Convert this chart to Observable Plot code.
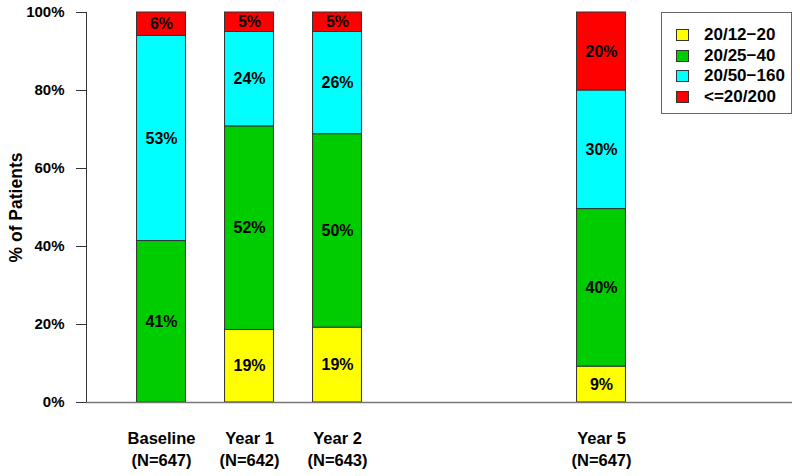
<!DOCTYPE html>
<html>
<head>
<meta charset="utf-8">
<script src="https://cdn.jsdelivr.net/npm/d3@7"></script>
<script src="https://cdn.jsdelivr.net/npm/@observablehq/plot@0.6"></script>
<style>
  html, body { margin: 0; padding: 0; background: #fff; }
  #wrap { position: relative; width: 800px; height: 476px; font-family: "Liberation Sans", Arial, sans-serif; }
  #legend { position: absolute; left: 661px; top: 12px; width: 131px; height: 102px; border: 1px solid #666; background: #fff; box-sizing: border-box; padding-top: 12px; }
  .item { display: flex; align-items: center; height: 20.5px; font-weight: bold; font-size: 17px; color: #000; }
  .sw { width: 13px; height: 12px; border: 1px solid #333; box-sizing: border-box; margin-left: 14px; margin-right: 15px; }
</style>
</head>
<body>
<div id="wrap"><div id="chart"></div><div id="legend"></div></div>
<script>
const categories = ["Baseline", "Year 1", "Year 2", "Year 5"];
const sampleSizes = ["(N=647)", "(N=642)", "(N=643)", "(N=647)"];
const years = [0, 1, 2, 5];
const seriesNames = ["20/12\u221220", "20/25\u221240", "20/50\u2212160", "<=20/200"];
const seriesColors = ["#FFFF00", "#00CD00", "#00FFFF", "#FF0000"];
const vaGood = [0, 18.6, 19.2, 9.2];
const vaMild = [41.4, 52.2, 49.6, 40.4];
const vaModerate = [52.6, 24.2, 26.2, 30.4];
const vaPoor = [6.0, 5.0, 5.0, 20.0];
const yTicks = [0, 20, 40, 60, 80, 100];

const seriesValues = [vaGood, vaMild, vaModerate, vaPoor];
const rows = [];
years.forEach((t, i) => {
  let acc = 0;
  seriesValues.forEach((vals, s) => {
    const v = vals[i];
    rows.push({t, series: seriesNames[s], color: seriesColors[s], y1: acc, y2: acc + v, value: v});
    acc += v;
  });
});
const segs = rows.filter(d => d.value > 0);
const half = 0.278;

const chart = Plot.plot({
  width: 800,
  height: 476,
  marginLeft: 86,
  marginRight: 8,
  marginTop: 12,
  marginBottom: 74,
  style: {fontFamily: "'Liberation Sans', Arial, sans-serif", background: "#fff"},
  x: {type: "linear", domain: [-0.8523, 7.1705]},
  y: {domain: [0, 100]},
  marks: [
    Plot.rect(segs, {x1: d => d.t - half, x2: d => d.t + half, y1: "y1", y2: "y2", fill: "color", stroke: "#333", strokeWidth: 1}),
    Plot.text(segs, {x: "t", y: d => (d.y1 + d.y2) / 2, text: d => Math.round(d.value) + "%", fontSize: 16, fontWeight: "bold", fill: "#000"}),
    Plot.ruleY([0], {stroke: "#777", strokeWidth: 1.5}),
    Plot.ruleX([-0.8523], {y1: 0, y2: 100, stroke: "#333", strokeWidth: 1}),
    Plot.axisY({ticks: yTicks, tickFormat: d => d + "%", tickSize: 10, tickPadding: 12, fontSize: 15, fontWeight: "bold", stroke: "#333",
      label: "% of Patients", labelAnchor: "center", labelArrow: "none", labelOffset: 77}),
    Plot.axisX({ticks: years, tickFormat: (d) => categories[years.indexOf(d)] + "\n" + sampleSizes[years.indexOf(d)],
      tickSize: 0, tickPadding: 26, fontSize: 16.5, fontWeight: "bold", lineHeight: 1.32, label: null})
  ]
});
document.getElementById("chart").appendChild(chart);
chart.querySelectorAll("[aria-label='y-axis label']").forEach(g => { g.setAttribute("font-size", "17.5"); g.style.fontSize = "17.5px"; g.style.fontWeight = "bold"; g.setAttribute("fill", "#000"); });
chart.querySelectorAll("[aria-label='y-axis tick label'], [aria-label='x-axis tick label']").forEach(g => g.setAttribute("fill", "#000"));

const legend = document.getElementById("legend");
seriesNames.forEach((name, i) => {
  const item = document.createElement("div");
  item.className = "item";
  const sw = document.createElement("span");
  sw.className = "sw";
  sw.style.background = seriesColors[i];
  const lab = document.createElement("span");
  lab.textContent = name;
  item.appendChild(sw);
  item.appendChild(lab);
  legend.appendChild(item);
});
</script>
</body>
</html>
